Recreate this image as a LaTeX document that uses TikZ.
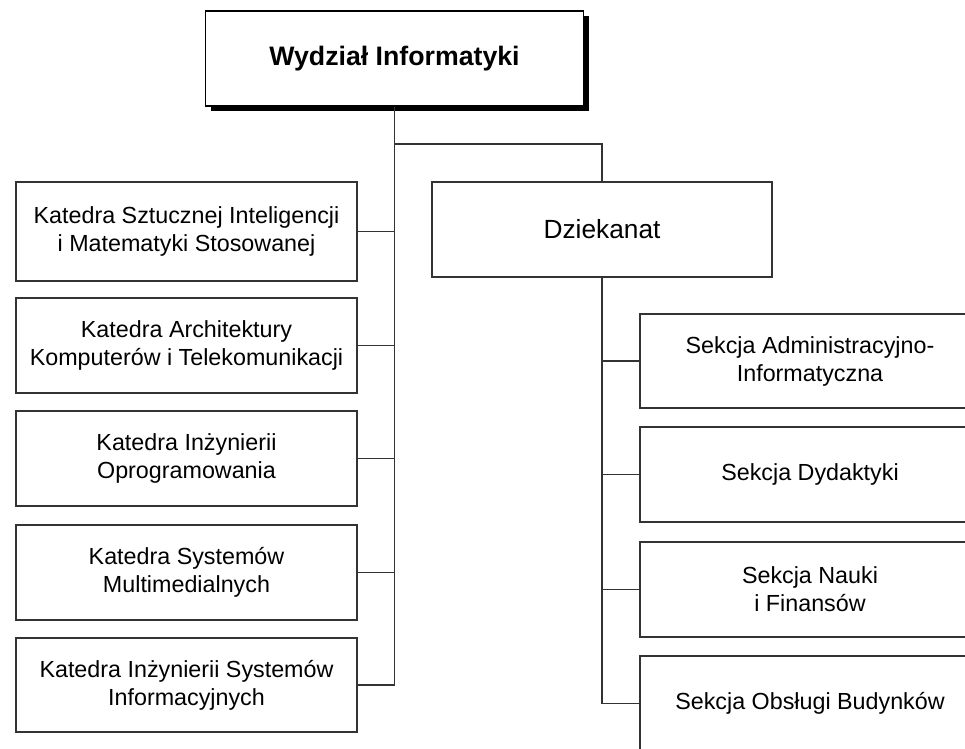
\documentclass[tikz,border=0pt]{standalone}
\usepackage{fontspec}
\setmainfont{Liberation Sans}
\usetikzlibrary{shadows}
\begin{document}
\begin{tikzpicture}[x=1pt,y=-1pt,
  box/.style={draw=black!80, line width=1.5pt, fill=white, minimum width=341pt, minimum height=95pt,
    align=center, inner sep=0pt, font=\fontsize{23.3}{28}\selectfont},
  rbox/.style={box, minimum width=340pt},
  conn/.style={draw=black!80, line width=1.5pt}]
\useasboundingbox (0,0) rectangle (965,748);
\clip (0,0) rectangle (965,748);
% top
\node[box, minimum width=378pt, minimum height=95pt, draw=black,
  font=\bfseries\fontsize{26.7}{32}\selectfont,
  drop shadow={shadow xshift=5pt, shadow yshift=-5pt, fill=black, opacity=1}]
  (wi) at (394.5,58.5) {Wydział Informatyki};
% left column
\node[box, minimum height=99pt] (k1) at (186.5,231.5) {Katedra Sztucznej Inteligencji\\i Matematyki Stosowanej};
\node[box] (k2) at (186.5,345.5) {Katedra Architektury\\Komputerów i Telekomunikacji};
\node[box] (k3) at (186.5,458.5) {Katedra Inżynierii\\Oprogramowania};
\node[box] (k4) at (186.5,572.5) {Katedra Systemów\\Multimedialnych};
\node[box, minimum height=94pt] (k5) at (186.5,685) {Katedra Inżynierii Systemów\\Informacyjnych};
% dziekanat
\node[box, minimum width=340pt, font=\fontsize{26.3}{32}\selectfont] (dz) at (602,229.5) {Dziekanat};
% right column
\node[rbox, minimum height=94pt] (s1) at (810,361) {Sekcja Administracyjno-\\Informatyczna};
\node[rbox] (s2) at (810,474.5) {Sekcja Dydaktyki};
\node[rbox] (s3) at (810,589.5) {Sekcja Nauki\\i Finansów};
\node[rbox] (s4) at (810,703.5) {Sekcja Obsługi Budynków};
% connectors
\coordinate (br) at (394.5,144);
\draw[conn] (wi.south) |- (k5.east);
\foreach \k in {k1,k2,k3,k4} \draw[conn] (\k.east) -- (\k.east -| wi.south);
\draw[conn] (br) -| (dz.north);
\draw[conn] (dz.south) |- (s4.west);
\foreach \s in {s1,s2,s3} \draw[conn] (\s.west) -- (\s.west -| dz.south);
\end{tikzpicture}
\end{document}
